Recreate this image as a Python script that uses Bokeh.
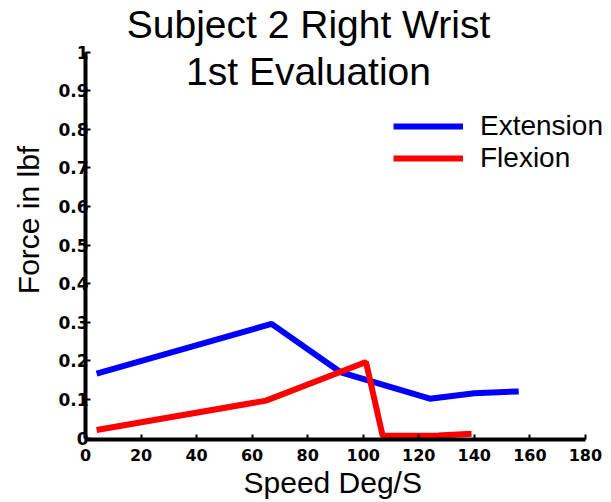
from bokeh.plotting import figure
from bokeh.models import Range1d, FixedTicker, Label, Legend, LegendItem, Title
from bokeh.embed import file_html
from bokeh.resources import INLINE

# ---- data ----
ext_speed = [4, 67, 92, 124, 140, 156]
ext_force = [0.167, 0.296, 0.170, 0.102, 0.116, 0.121]
flex_speed = [4, 65, 101, 107, 127, 139]
flex_force = [0.021, 0.097, 0.197, 0.006, 0.007, 0.011]

x_ticks = [0, 20, 40, 60, 80, 100, 120, 140, 160, 180]
y_ticks = [0, 0.1, 0.2, 0.3, 0.4, 0.5, 0.6, 0.7, 0.8, 0.9, 1]
y_tick_labels = ["0", "0.1", "0.2", "0.3", "0.4", "0.5", "0.6", "0.7", "0.8", "0.9", "1"]
title_lines = ["Subject 2 Right Wrist", "1st Evaluation"]
x_label = "Speed Deg/S"
y_label = "Force in lbf"
series_names = ["Extension", "Flexion"]

FONT = "Liberation Sans"

p = figure(width=611, height=502, output_backend="svg", toolbar_location=None,
           x_range=Range1d(0, 189.4), y_range=Range1d(-0.0036, 1.1337),
           min_border_left=85, min_border_right=0, min_border_top=0, min_border_bottom=63)
p.outline_line_color = None
p.grid.visible = False
p.background_fill_color = "white"
p.border_fill_color = "white"

for ax in (p.xaxis[0], p.yaxis[0]):
    ax.axis_line_width = 4
    ax.axis_line_color = "black"
    ax.major_tick_in = 5
    ax.major_tick_out = 0
    ax.major_tick_line_width = 2
    ax.minor_tick_line_color = None
    ax.major_label_text_font = "DejaVu Sans"
    ax.major_label_text_font_style = "bold"
    ax.major_label_text_font_size = "16px"
    ax.major_label_text_color = "black"
    ax.axis_label_text_font = FONT
    ax.axis_label_text_font_style = "normal"
    ax.axis_label_text_font_size = "30px"
    ax.axis_label_text_color = "black"

p.xaxis[0].bounds = (0, 180)
p.xaxis[0].ticker = FixedTicker(ticks=x_ticks)
p.xaxis[0].major_label_standoff = 9

p.yaxis[0].bounds = (0, 1)
p.yaxis[0].ticker = FixedTicker(ticks=y_ticks)
p.yaxis[0].major_label_overrides = {t: s for t, s in zip(y_ticks, y_tick_labels)}
p.yaxis[0].major_label_text_font_size = "17px"
p.yaxis[0].major_label_standoff = -3
p.yaxis[0].axis_label = y_label
p.yaxis[0].axis_label_standoff = 10

r_ext = p.line(ext_speed, ext_force, line_color="#0000ff", line_width=6)
r_flex = p.line(flex_speed, flex_force, line_color="#ff0000", line_width=6)

legend = Legend(items=[LegendItem(label=series_names[0], renderers=[r_ext]),
                       LegendItem(label=series_names[1], renderers=[r_flex])],
                location=(308, 265), padding=0, margin=0, spacing=0,
                glyph_width=70, glyph_height=32, label_height=32, label_standoff=17,
                label_text_font=FONT, label_text_font_size="28px", label_text_color="black",
                border_line_color=None, background_fill_alpha=0)
p.add_layout(legend)

for txt, yv in zip(title_lines, [1.0707, 0.9503]):
    p.add_layout(Label(x=80.3, y=yv, text=txt, text_align="center", text_baseline="middle",
                       text_font=FONT, text_font_size="39px", text_color="black"))

p.add_layout(Title(text=x_label, align="left", offset=158, standoff=0,
                   text_font=FONT, text_font_size="30px", text_font_style="normal",
                   text_color="black"), "below")

open("out.html", "w").write(file_html(p, INLINE))
